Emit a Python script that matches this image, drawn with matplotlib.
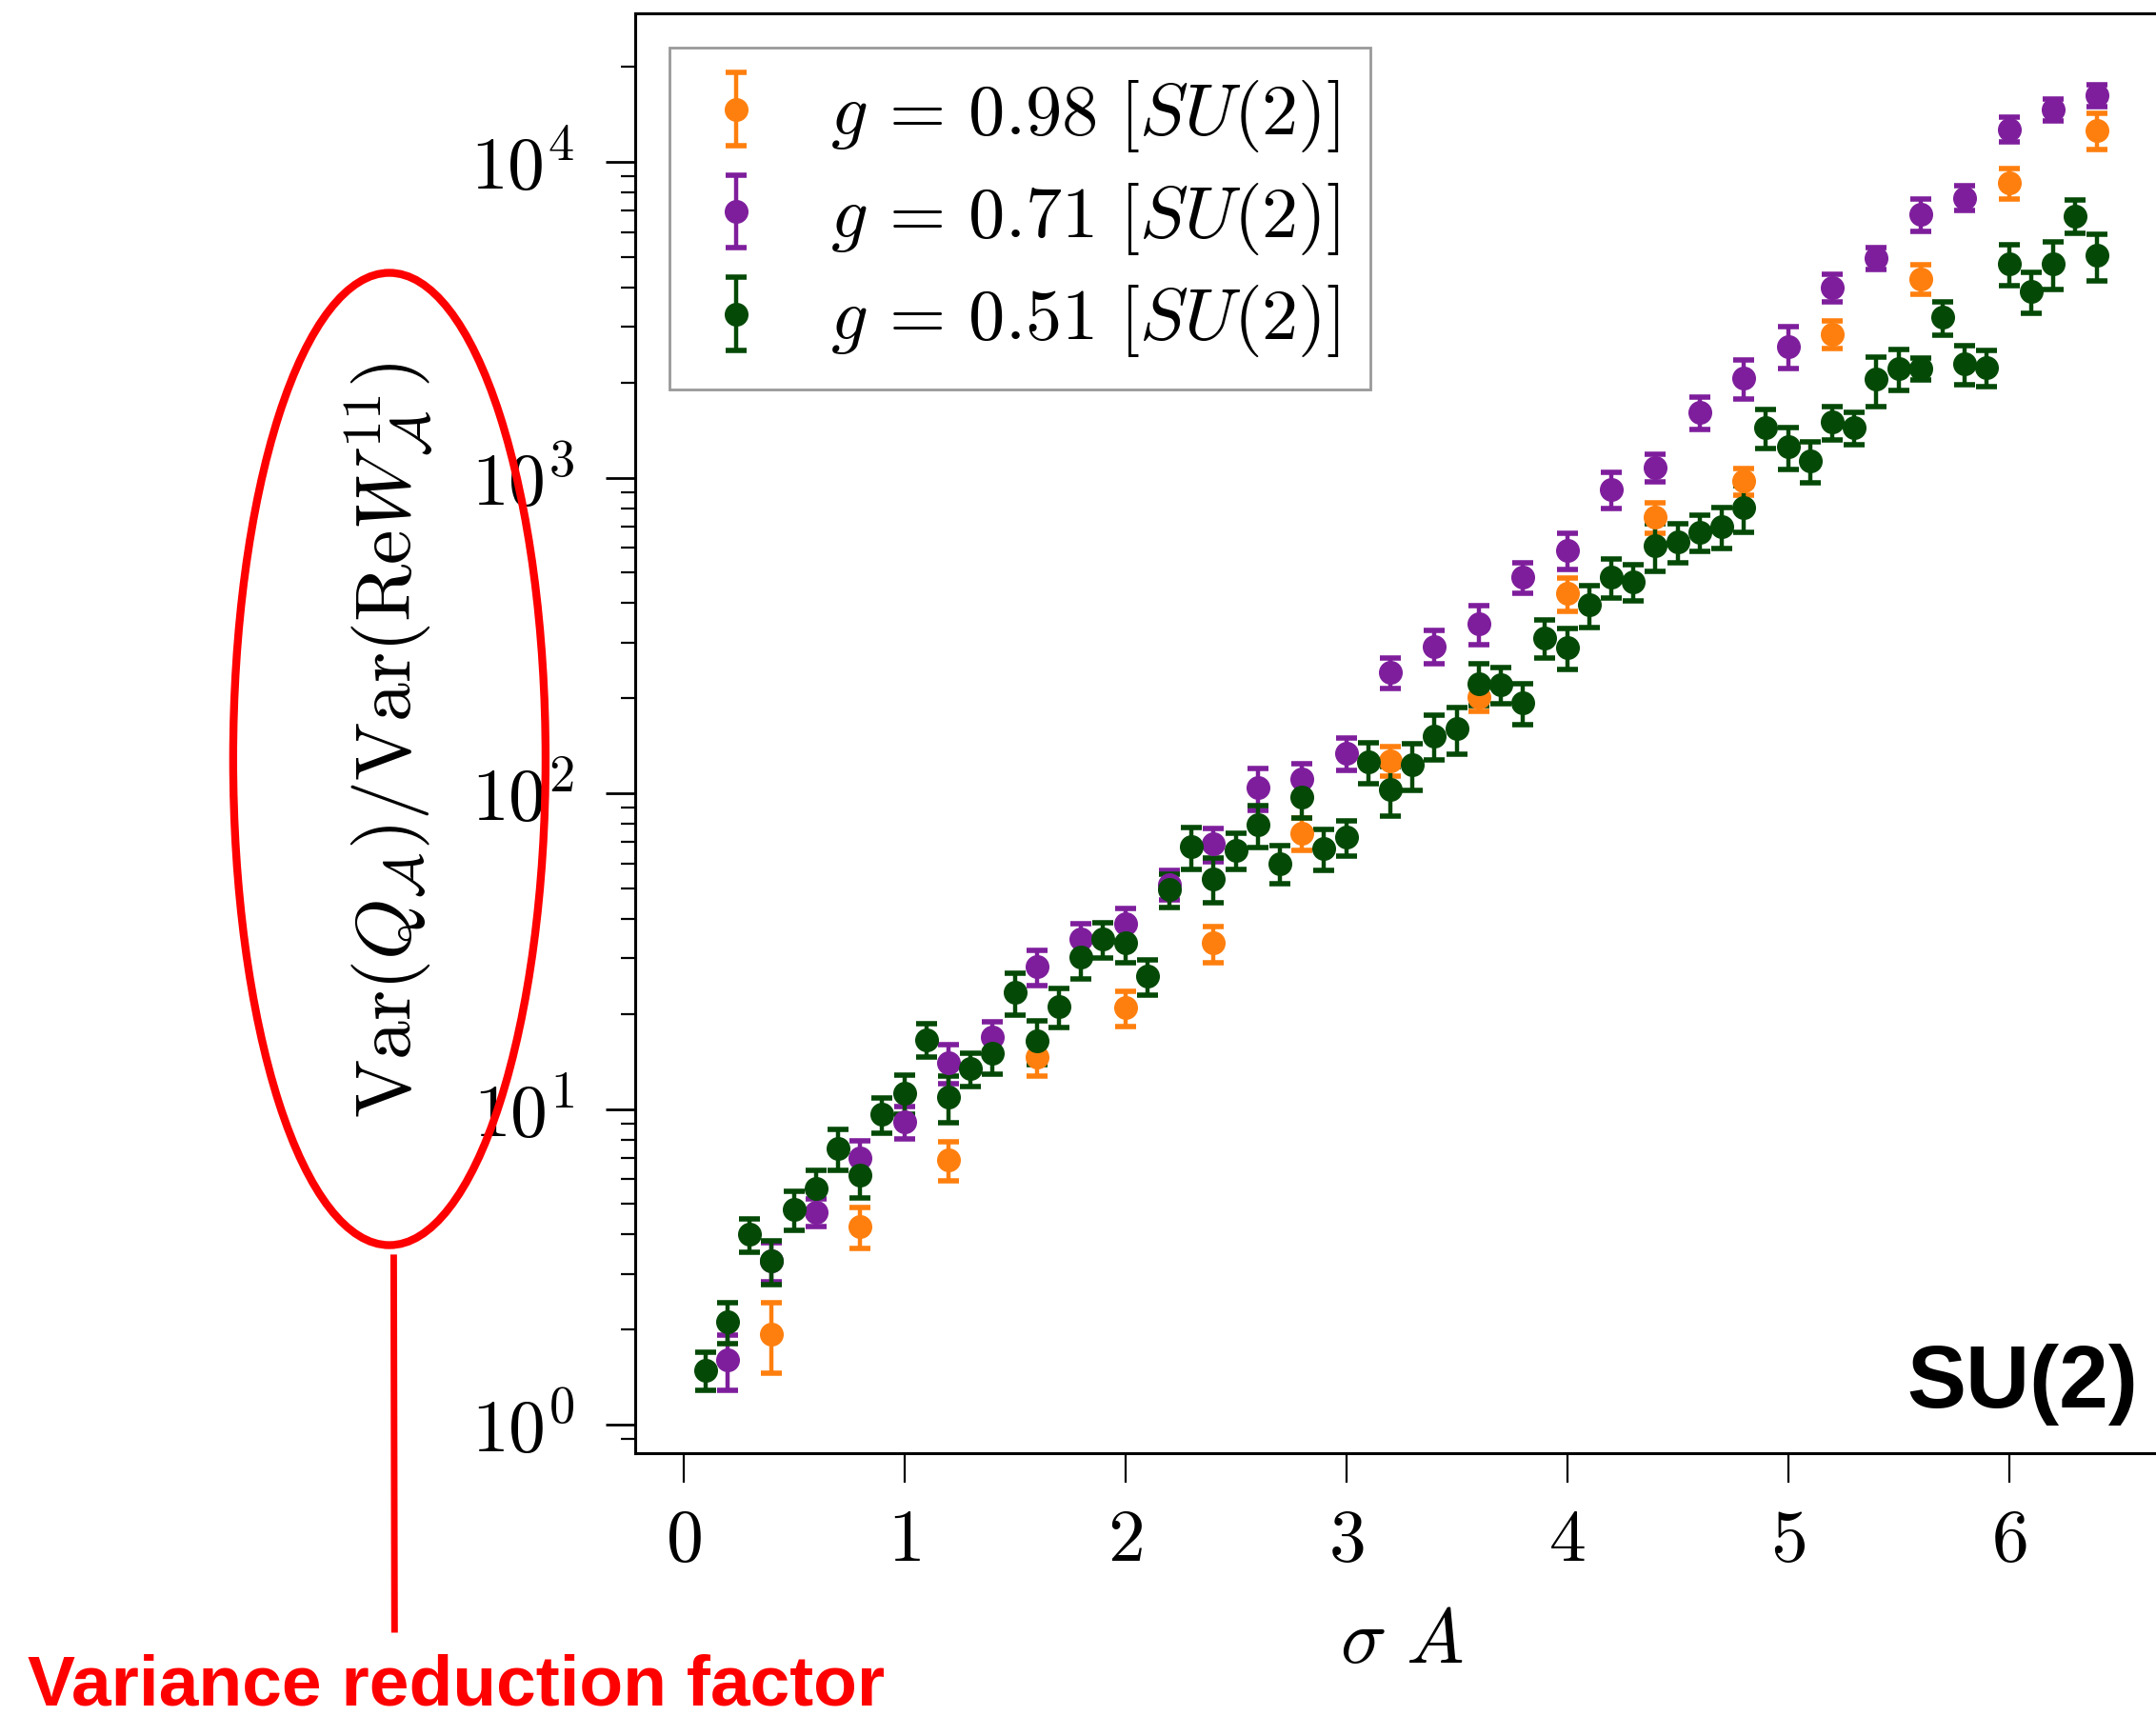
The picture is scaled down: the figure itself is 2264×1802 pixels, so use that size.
import matplotlib
matplotlib.use("Agg")
import matplotlib.pyplot as plt
from matplotlib.patches import Ellipse
from matplotlib.lines import Line2D
import numpy as np

plt.rcParams['font.family'] = 'serif'
plt.rcParams['font.serif'] = ['cmr10']
plt.rcParams['mathtext.fontset'] = 'cm'
plt.rcParams['axes.formatter.use_mathtext'] = True

# ---- data ----
x_098 = [0.4, 0.8, 1.2, 1.6, 2.0, 2.4, 2.8, 3.2, 3.6, 4.0, 4.4, 4.8, 5.2, 5.6, 6.0, 6.4]
y_098 = [1.94, 4.24, 6.9, 14.6, 20.9, 33.5, 74.8, 127, 202, 429, 751, 975, 2850, 4270, 8600, 12600]
rel_098 = [0.25, 0.15, 0.14, 0.13, 0.13, 0.13, 0.12, 0.11, 0.10, 0.12, 0.11, 0.10, 0.10, 0.11, 0.11, 0.13]

x_071 = [0.2, 0.4, 0.6, 0.8, 1.0, 1.2, 1.4, 1.6, 1.8, 2.0, 2.2, 2.4, 2.6, 2.8, 3.0, 3.2,
         3.4, 3.6, 3.8, 4.0, 4.2, 4.4, 4.6, 4.8, 5.0, 5.2, 5.4, 5.6, 5.8, 6.0, 6.2, 6.4]
y_071 = [1.6, 3.3, 4.7, 7.0, 9.1, 14.0, 16.9, 28.2, 34.5, 38.5, 51.5, 69, 104, 111, 134, 242,
         292, 344, 483, 590, 918, 1078, 1611, 2070, 2608, 4010, 4950, 6830, 7700, 12700, 14700, 16300]
rel_071 = [0.20, 0.14, 0.10, 0.13, 0.12, 0.14, 0.12, 0.13, 0.12, 0.12, 0.11, 0.12, 0.15, 0.12, 0.12, 0.11,
           0.12, 0.14, 0.11, 0.13, 0.13, 0.10, 0.12, 0.14, 0.15, 0.10, 0.08, 0.12, 0.09, 0.09, 0.08, 0.08]

x_051 = [0.1, 0.2, 0.3, 0.4, 0.5, 0.6, 0.7, 0.8, 0.9, 1.0, 1.1, 1.2, 1.3, 1.4, 1.5, 1.6,
         1.7, 1.8, 1.9, 2.0, 2.1, 2.2, 2.3, 2.4, 2.5, 2.6, 2.7, 2.8, 2.9, 3.0, 3.1, 3.2,
         3.3, 3.4, 3.5, 3.6, 3.7, 3.8, 3.9, 4.0, 4.1, 4.2, 4.3, 4.4, 4.5, 4.6, 4.7, 4.8,
         4.9, 5.0, 5.1, 5.2, 5.3, 5.4, 5.5, 5.6, 5.7, 5.8, 5.9, 6.0, 6.1, 6.2, 6.3, 6.4]
y_051 = [1.49, 2.12, 4.0, 3.3, 4.8, 5.6, 7.5, 6.15, 9.6, 11.2, 16.6, 10.9, 13.4, 15.0, 23.4, 16.4,
         21.1, 30.3, 34.5, 33.5, 26.3, 49.5, 67.6, 53.7, 66, 79.4, 60, 97, 67, 72.5, 126, 103,
         123, 152, 160, 223, 221, 194, 311, 290, 395, 483, 469, 609, 627, 673, 700, 806,
         1442, 1253, 1133, 1500, 1442, 2048, 2218, 2218, 3220, 2290, 2240, 4760, 3890, 4760, 6760, 5060]
rel_051 = [0.14, 0.15, 0.12, 0.16, 0.14, 0.14, 0.15, 0.15, 0.13, 0.14, 0.12, 0.17, 0.12, 0.14, 0.15, 0.16,
           0.14, 0.15, 0.13, 0.13, 0.13, 0.12, 0.15, 0.16, 0.13, 0.15, 0.14, 0.14, 0.15, 0.13, 0.15, 0.18,
           0.17, 0.16, 0.17, 0.15, 0.13, 0.15, 0.14, 0.15, 0.15, 0.14, 0.13, 0.17, 0.14, 0.13, 0.15, 0.17,
           0.14, 0.15, 0.15, 0.12, 0.12, 0.18, 0.15, 0.08, 0.12, 0.14, 0.13, 0.15, 0.15, 0.17, 0.12, 0.17]

series = [
    (x_098, y_098, rel_098, '#ff7f0e', r'$g\,=\,0.98\ [SU(2)]$'),
    (x_071, y_071, rel_071, '#7e1e9c', r'$g\,=\,0.71\ [SU(2)]$'),
    (x_051, y_051, rel_051, '#054907', r'$g\,=\,0.51\ [SU(2)]$'),
]

fig = plt.figure(figsize=(22.64, 18.02), dpi=100)
ax = fig.add_axes([0.2946, 0.153, 0.711, 0.839])

for xs, ys, rel, col, lab in series:
    ys = np.array(ys, dtype=float)
    err = ys * np.array(rel)
    ax.errorbar(xs, ys, yerr=err, fmt='o', color=col, ms=17, elinewidth=3.2,
                capsize=8, capthick=4, label=lab)

ax.set_yscale('log')
ax.set_xlim(-0.218, 6.72)
ax.set_ylim(0.81, 2.95e4)
ax.set_xticks([0, 1, 2, 3, 4, 5, 6])

for sp in ax.spines.values():
    sp.set_linewidth(2.2)
ax.tick_params(axis='x', which='major', direction='out', length=22, width=1.6,
               labelsize=56, pad=20)
ax.tick_params(axis='y', which='major', direction='out', length=22, width=2,
               labelsize=56, pad=24)
ax.tick_params(axis='y', which='minor', direction='out', length=11, width=1.6)

ax.set_xlabel(r'$\sigma\ A$', fontsize=58, labelpad=26)
ax.set_ylabel(r'$\mathrm{Var}(Q_{\mathcal{A}})/\mathrm{Var}(\mathrm{Re}W^{11}_{\mathcal{A}})$',
              fontsize=59)
ax.yaxis.set_label_coords(-0.131, 0.495)

leg = ax.legend(loc='upper left', fontsize=55, fancybox=False, framealpha=1,
                edgecolor='#999999', borderaxespad=0.47, handlelength=1.0,
                handletextpad=0.8, labelspacing=0.36, borderpad=0.42)
leg.get_frame().set_linewidth(2)

fig.text(0.9917, 0.1798, 'SU(2)', ha='right', va='baseline',
         fontsize=67, fontweight='bold', family='Liberation Sans')

# red annotation around the y label
fig.patches.append(Ellipse((0.1806, 0.5577), 0.1449, 0.5666, transform=fig.transFigure,
                           fill=False, edgecolor='red', linewidth=6))
fig.lines.append(Line2D([0.1826, 0.1830], [0.267, 0.0505], transform=fig.transFigure,
                        color='red', linewidth=5))
fig.text(0.0128, 0.0066, 'Variance reduction factor', ha='left', va='baseline',
         color='red', fontsize=54, fontweight='bold', family='Liberation Sans')

fig.savefig('out.png', dpi=100)
